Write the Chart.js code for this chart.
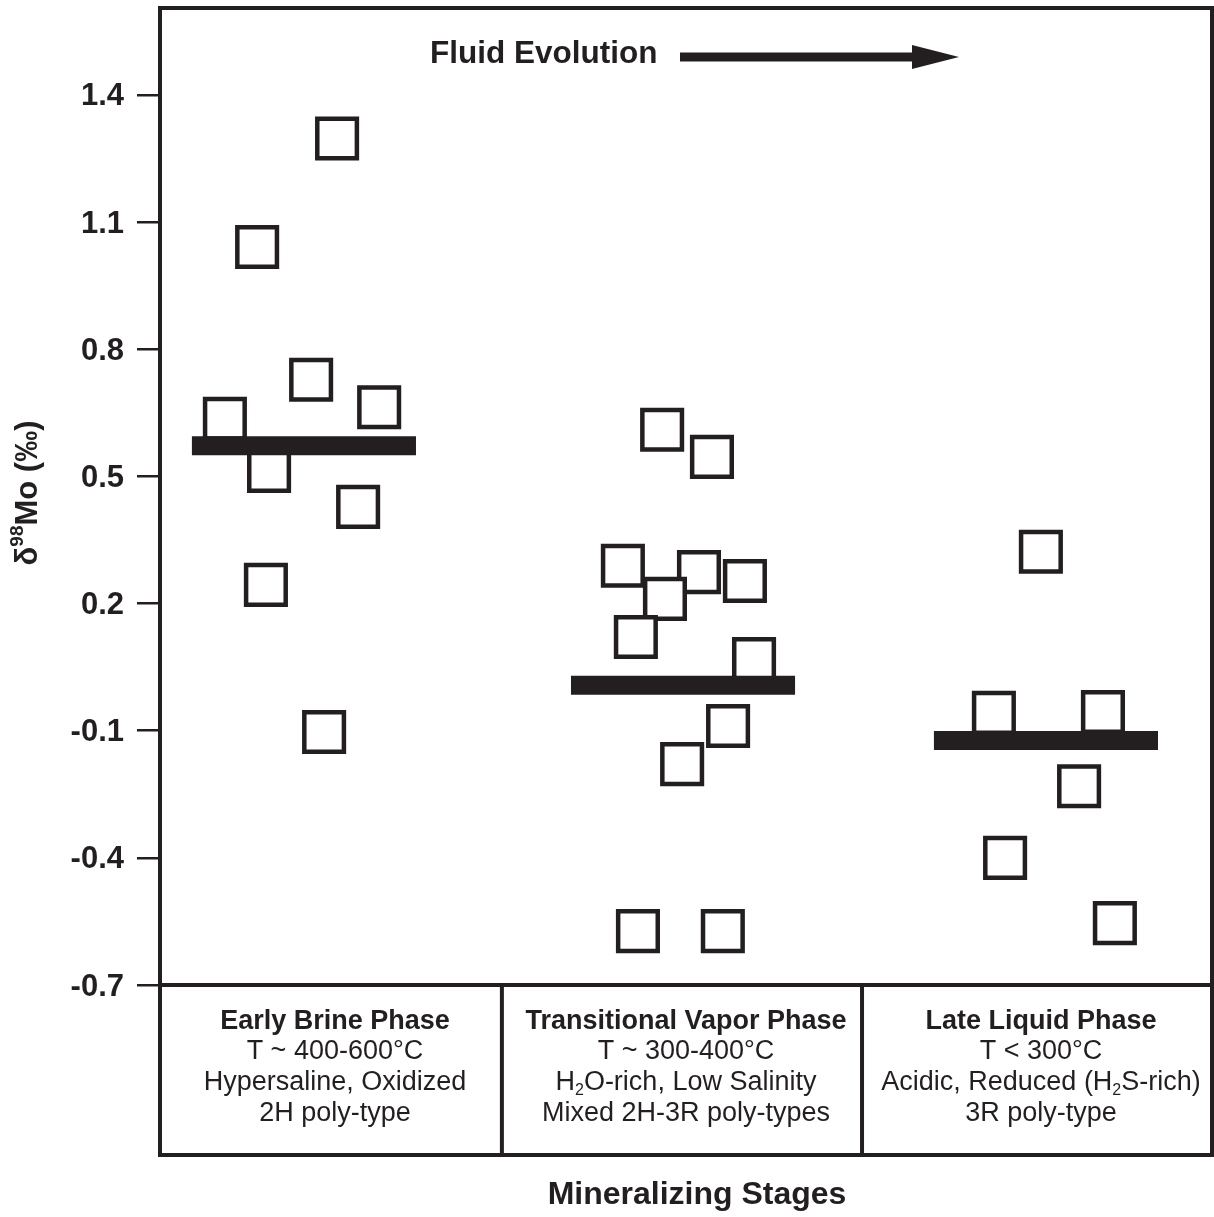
<!DOCTYPE html>
<html>
<head>
<meta charset="utf-8">
<script src="https://cdn.jsdelivr.net/npm/chart.js@4.4.1/dist/chart.umd.min.js"></script>
<style>
  html, body { margin: 0; padding: 0; background: #fff; }
  #wrap { width: 1214px; height: 1217px; position: relative; }
</style>
</head>
<body>
<div id="wrap"><canvas id="chart"></canvas></div>
<script>
const INK = '#231f20';
const FONT = "'Liberation Sans', Arial, Helvetica, sans-serif";

// y ticks and the stage column edges (x is a 0..3 "stage" axis)
const Y_TICKS = [-0.7, -0.4, -0.1, 0.2, 0.5, 0.8, 1.1, 1.4];
const STAGE_EDGES = [0, 0.975, 2.002, 3];

// δ98Mo values, x = jittered position inside each stage column
const earlyX = [0.185, 0.277, 0.505, 0.431, 0.625, 0.311, 0.565, 0.302, 0.468];
const earlyY = [0.636, 1.041, 1.297, 0.728, 0.663, 0.513, 0.428, 0.244, -0.103];
const transX = [1.432, 1.574, 1.320, 1.537, 1.668, 1.440, 1.357, 1.694, 1.620, 1.489, 1.363, 1.605];
const transY = [0.610, 0.546, 0.289, 0.274, 0.253, 0.211, 0.121, 0.069, -0.089, -0.179, -0.573, -0.573];
const lateX = [2.512, 2.378, 2.689, 2.621, 2.410, 2.723];
const lateY = [0.322, -0.058, -0.056, -0.231, -0.400, -0.554];

// stage means, drawn as thick bars
const meanStart = [0.091, 1.172, 2.207];
const meanEnd = [0.730, 1.811, 2.846];
const meanY = [0.572, 0.007, -0.123];

// "_x" = subscript character
const STAGE_TITLES = ['Early Brine Phase', 'Transitional Vapor Phase', 'Late Liquid Phase'];
const STAGE_LINES = [
  ['T ~ 400-600°C', 'Hypersaline, Oxidized', '2H poly-type'],
  ['T ~ 300-400°C', 'H_2O-rich, Low Salinity', 'Mixed 2H-3R poly-types'],
  ['T < 300°C', 'Acidic, Reduced (H_2S-rich)', '3R poly-type']
];

const pts = (xs, ys) => xs.map((x, i) => ({ x, y: ys[i] }));

function squares(xs, ys) {
  return {
    type: 'scatter',
    data: pts(xs, ys),
    pointStyle: 'rect',
    pointRadius: 28,
    pointBorderWidth: 4.5,
    pointBackgroundColor: '#fff',
    pointBorderColor: INK,
    order: 1
  };
}

function meanBar(i) {
  return {
    type: 'line',
    data: [{ x: meanStart[i], y: meanY[i] }, { x: meanEnd[i], y: meanY[i] }],
    borderColor: INK,
    borderWidth: 19,
    borderCapStyle: 'butt',
    pointRadius: 0,
    order: 0
  };
}

// text with "_" subscripts / "^" superscripts, centred on (cx, cy)
function drawRich(ctx, text, cx, cy, size, weight) {
  const parts = [];
  for (let i = 0; i < text.length; i++) {
    const c = text[i];
    if (c === '_' || c === '^') {
      parts.push({ t: text[i + 1], mode: c });
      i++;
    } else if (parts.length && !parts[parts.length - 1].mode) {
      parts[parts.length - 1].t += c;
    } else {
      parts.push({ t: c, mode: null });
    }
  }
  const fontFor = (p) => `${weight} ${p.mode ? Math.round(size * 0.6) : size}px ${FONT}`;
  let total = 0;
  parts.forEach((p) => { ctx.font = fontFor(p); p.w = ctx.measureText(p.t).width; total += p.w; });
  let x = cx - total / 2;
  ctx.textAlign = 'left';
  ctx.textBaseline = 'middle';
  parts.forEach((p) => {
    ctx.font = fontFor(p);
    let dy = 0;
    if (p.mode === '_') dy = size * 0.28;
    if (p.mode === '^') dy = -size * 0.32;
    ctx.fillText(p.t, x, cy + dy);
    x += p.w;
  });
}

const framePlugin = {
  id: 'frame',
  afterDraw(chart) {
    const { ctx, chartArea: a, scales } = chart;
    const xs = scales.x;
    const tableBottom = a.bottom + 170;
    ctx.save();
    ctx.strokeStyle = INK;
    ctx.fillStyle = INK;
    ctx.lineWidth = 4;
    ctx.strokeRect(a.left, a.top, a.right - a.left, a.bottom - a.top);
    ctx.strokeRect(a.left, a.bottom, a.right - a.left, tableBottom - a.bottom);
    STAGE_EDGES.slice(1, -1).forEach((v) => {
      const px = xs.getPixelForValue(v);
      ctx.beginPath();
      ctx.moveTo(px, a.bottom);
      ctx.lineTo(px, tableBottom);
      ctx.stroke();
    });

    // stage descriptions
    STAGE_TITLES.forEach((title, i) => {
      const cx = (xs.getPixelForValue(STAGE_EDGES[i]) + xs.getPixelForValue(STAGE_EDGES[i + 1])) / 2 + 4;
      drawRich(ctx, title, cx, a.bottom + 37, 27, 'bold');
      STAGE_LINES[i].forEach((line, j) => {
        drawRich(ctx, line, cx, a.bottom + 67 + j * 31, 27, 'normal');
      });
    });

    // axis titles
    drawRich(ctx, 'Mineralizing Stages', 697, tableBottom + 40, 32, 'bold');
    ctx.save();
    ctx.translate(28, 493);
    ctx.rotate(-Math.PI / 2);
    drawRich(ctx, 'δ^9^8Mo (‰)', 0, 0, 31, 'bold');
    ctx.restore();

    // fluid evolution arrow
    ctx.font = `bold 31.5px ${FONT}`;
    ctx.textAlign = 'left';
    ctx.textBaseline = 'middle';
    ctx.fillText('Fluid Evolution', a.left + 270, a.top + 46);
    const ay = a.top + 49;
    ctx.fillRect(a.left + 520, ay - 4.5, 237, 9);
    ctx.beginPath();
    ctx.moveTo(a.left + 752, ay - 12);
    ctx.lineTo(a.left + 799, ay);
    ctx.lineTo(a.left + 752, ay + 12);
    ctx.closePath();
    ctx.fill();
    ctx.restore();
  }
};

new Chart(document.getElementById('chart'), {
  type: 'scatter',
  data: {
    datasets: [
      squares(earlyX, earlyY),
      squares(transX, transY),
      squares(lateX, lateY),
      meanBar(0), meanBar(1), meanBar(2)
    ]
  },
  options: {
    responsive: true,
    maintainAspectRatio: false,
    animation: false,
    events: [],
    layout: { autoPadding: false, padding: { left: 0, right: 2, top: 8, bottom: 232 } },
    plugins: { legend: { display: false }, tooltip: { enabled: false } },
    scales: {
      x: { type: 'linear', min: 0, max: 3, display: false },
      y: {
        type: 'linear',
        min: -0.7,
        max: 1.605,
        afterBuildTicks: (s) => { s.ticks = Y_TICKS.map((v) => ({ value: v })); },
        afterFit: (s) => { s.width = 160; s.paddingTop = 0; s.paddingBottom = 0; },
        border: { display: false },
        grid: { drawOnChartArea: false, drawTicks: true, tickLength: 23, color: INK, lineWidth: 2.5 },
        ticks: {
          padding: 13,
          labelOffset: 2,
          color: INK,
          font: { family: FONT, size: 31, weight: 'bold' },
          callback: (v) => v.toFixed(1)
        }
      }
    }
  },
  plugins: [framePlugin]
});
</script>
</body>
</html>
